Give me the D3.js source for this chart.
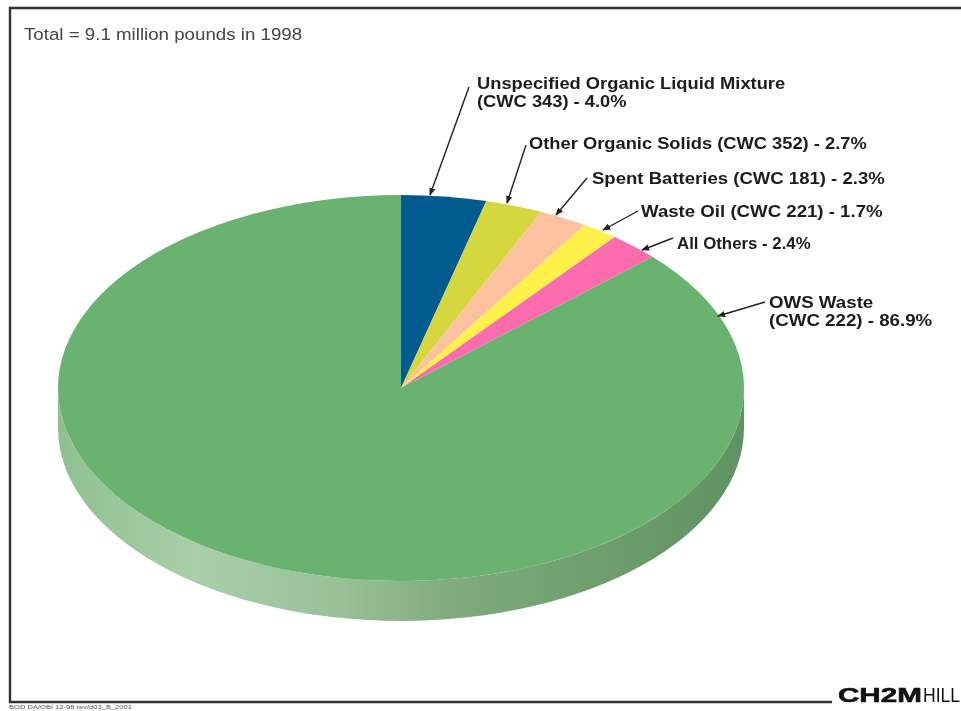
<!DOCTYPE html>
<html>
<head>
<meta charset="utf-8">
<script src="https://d3js.org/d3.v7.min.js"></script>
<style>
  html, body { margin: 0; padding: 0; background: #fff; }
  svg { display: block; filter: blur(0.6px); }
  text { font-family: "Liberation Sans", Arial, sans-serif; }
  .label { font-size: 16.5px; font-weight: bold; fill: #1c1c1c; }
</style>
</head>
<body>
<div id="chart"></div>
<script>
// waste stream shares, percent of total
const categories = ["Unspecified Organic Liquid Mixture (CWC 343)", "Other Organic Solids (CWC 352)",
  "Spent Batteries (CWC 181)", "Waste Oil (CWC 221)", "All Others", "OWS Waste (CWC 222)"];
const shares = [4.0, 2.7, 2.3, 1.7, 2.4, 86.9];
const sliceColors = ["#005b8f", "#d6d63f", "#fcc29f", "#fdf14a", "#fb6cae", "#69b26f"];

const titleText = "Total = 9.1 million pounds in 1998";
const labelLines = [
  ["Unspecified Organic Liquid Mixture", "(CWC 343) - 4.0%"],
  ["Other Organic Solids (CWC 352) - 2.7%"],
  ["Spent Batteries (CWC 181) - 2.3%"],
  ["Waste Oil (CWC 221) - 1.7%"],
  ["All Others - 2.4%"],
  ["OWS Waste", "(CWC 222) - 86.9%"]
];

const width = 961, height = 711;
const cx = 401, cy = 388, rx = 343, ry = 193, depth = 40;

// label anchor, horizontal stretch + leader line ends, same order as categories
const labelPos = [
  { x: 477, y: 89, sx: 1.11, from: [469, 87], to: [430, 195] },
  { x: 529, y: 149, sx: 1.11, from: [526, 145], to: [507, 203] },
  { x: 592, y: 184, sx: 1.125, from: [587, 178], to: [556, 215] },
  { x: 641, y: 217, sx: 1.13, from: [638, 211], to: [603, 230] },
  { x: 677, y: 249, sx: 1.02, from: [673, 238], to: [642, 250] },
  { x: 769, y: 308, sx: 1.135, from: [765, 302], to: [718, 316] }
];

const svg = d3.select("#chart").append("svg")
  .attr("width", width)
  .attr("height", height);

const defs = svg.append("defs");

const wallGrad = defs.append("linearGradient")
  .attr("id", "wallGrad")
  .attr("x1", "0%").attr("x2", "100%")
  .attr("y1", "0%").attr("y2", "0%");
[[0, "#8fbf90"], [0.2, "#a9cfa9"], [0.42, "#98bf96"], [0.58, "#80ab7c"], [0.8, "#6d9e6c"], [1, "#5f9262"]]
  .forEach(s => wallGrad.append("stop").attr("offset", s[0]).attr("stop-color", s[1]));

defs.append("marker")
  .attr("id", "arrow")
  .attr("viewBox", "0 0 10 10")
  .attr("refX", 9).attr("refY", 5)
  .attr("markerWidth", 8).attr("markerHeight", 8)
  .attr("markerUnits", "userSpaceOnUse")
  .attr("orient", "auto")
  .append("path")
  .attr("d", "M0,1 L10,5 L0,9 Z")
  .attr("fill", "#222");

// frame
svg.append("path")
  .attr("d", `M${width},8 H10 V702 H832`)
  .attr("fill", "none")
  .attr("stroke", "#333")
  .attr("stroke-width", 2.4);

svg.append("text")
  .attr("transform", "translate(24,40) scale(1.135,1)")
  .attr("font-size", 16.5)
  .attr("fill", "#444")
  .text(titleText);

// side wall of the disc
svg.append("path")
  .attr("d", `M${cx - rx},${cy} A${rx},${ry} 0 0 0 ${cx + rx},${cy} V${cy + depth} A${rx},${ry} 0 0 1 ${cx - rx},${cy + depth} Z`)
  .attr("fill", "url(#wallGrad)");

// top of the disc: a normal pie squashed into an ellipse
const pie = d3.pie().sort(null);
const arc = d3.arc().innerRadius(0).outerRadius(rx);

svg.append("g")
  .attr("transform", `translate(${cx},${cy}) scale(1,${ry / rx})`)
  .selectAll("path")
  .data(pie(shares))
  .join("path")
  .attr("d", arc)
  .attr("fill", (d, i) => sliceColors[i]);

// leaders
svg.append("g")
  .selectAll("line")
  .data(labelPos)
  .join("line")
  .attr("x1", d => d.from[0]).attr("y1", d => d.from[1])
  .attr("x2", d => d.to[0]).attr("y2", d => d.to[1])
  .attr("stroke", "#222")
  .attr("stroke-width", 1.4)
  .attr("marker-end", "url(#arrow)");

// labels
const labels = svg.append("g")
  .selectAll("text")
  .data(labelLines)
  .join("text")
  .attr("class", "label")
  .attr("transform", (d, i) => `translate(${labelPos[i].x},${labelPos[i].y}) scale(${labelPos[i].sx},1)`);

labels.selectAll("tspan")
  .data(d => d)
  .join("tspan")
  .attr("x", 0)
  .attr("dy", (d, i) => i ? 18 : 0)
  .text(d => d);

// logo
svg.append("text")
  .attr("transform", "translate(838,702) scale(1.48,1)")
  .attr("font-size", 20)
  .attr("font-weight", "bold")
  .attr("fill", "#111")
  .attr("stroke", "#111")
  .attr("stroke-width", 0.6)
  .text("CH2M");
svg.append("text")
  .attr("transform", "translate(923,702) scale(0.88,1)")
  .attr("font-size", 20)
  .attr("fill", "#111")
  .text("HILL");

svg.append("text")
  .attr("transform", "translate(9,709) scale(1.26,1)")
  .attr("font-size", 6)
  .attr("fill", "#555")
  .text("BOD DA/OBI 12-98 rev/d03_B_2001");
</script>
</body>
</html>
